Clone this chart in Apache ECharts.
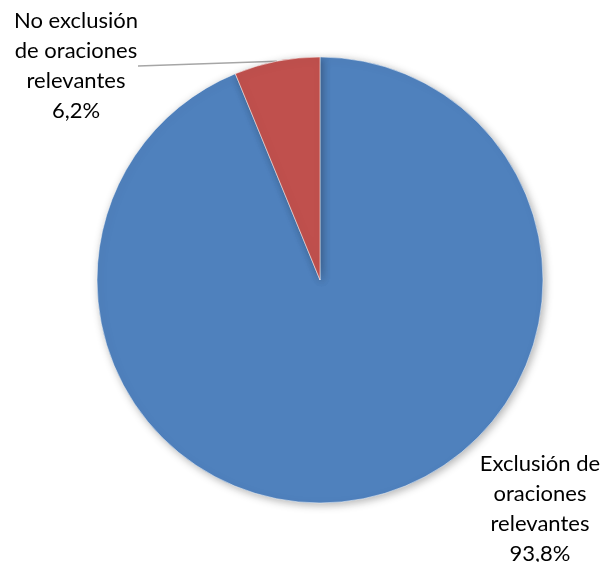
<!DOCTYPE html>
<html>
<head>
<meta charset="utf-8">
<script src="https://cdn.jsdelivr.net/npm/echarts@6/dist/echarts.min.js"></script>
<style>html,body{margin:0;padding:0;background:#fff}#c{width:603px;height:562px}</style>
</head>
<body>
<div id="c"></div>
<script>
const categories = ['Exclusión de\noraciones\nrelevantes', 'No exclusión\nde oraciones\nrelevantes'];
const values = [93.8, 6.2];
const colors = ['#4F81BD', '#C0504D'];
const labelPositions = [[540, 509], [76, 66]];

const chart = echarts.init(document.getElementById('c'));
chart.setOption({
  animation: false,
  series: [{
    type: 'pie',
    center: [320, 280],
    radius: 223,
    startAngle: 90,
    clockwise: true,
    data: categories.map((n, i) => ({
      name: n, value: values[i],
      itemStyle: { color: colors[i] },
      labelLine: { show: i === 1 }
    })),
    itemStyle: { borderColor: '#fff', borderWidth: 0.5, shadowBlur: 8, shadowColor: 'rgba(0,0,0,0.3)', shadowOffsetX: 2, shadowOffsetY: 2 },
    label: {
      show: true,
      formatter: p => p.name + '\n' + String(p.value).replace('.', ',') + '%',
      fontFamily: 'Lato',
      fontSize: 22,
      lineHeight: 30,
      color: '#000',
      align: 'center'
    },
    labelLine: { show: true, length: 10, length2: 0, lineStyle: { color: '#A6A6A6', width: 1.5 } },
    labelLayout: p => ({ x: labelPositions[p.dataIndex][0], y: labelPositions[p.dataIndex][1], align: 'center', verticalAlign: 'middle' })
  }]
});
</script>
</body>
</html>
